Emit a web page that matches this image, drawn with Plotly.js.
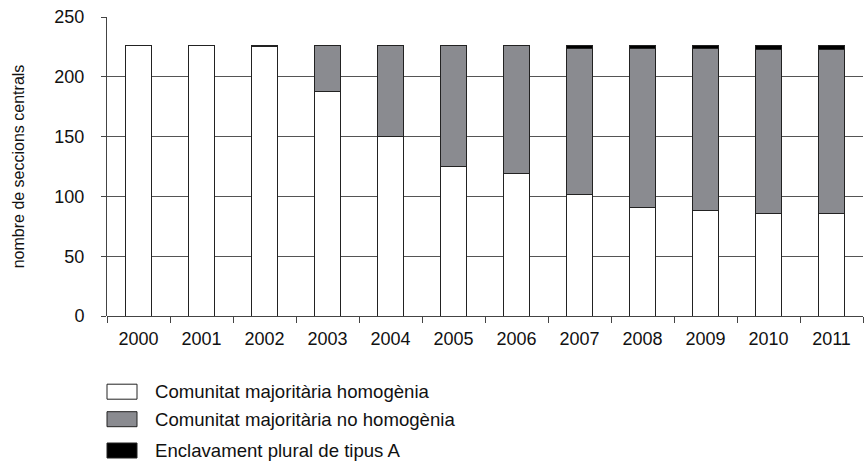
<!DOCTYPE html>
<html>
<head>
<meta charset="utf-8">
<script src="https://cdn.plot.ly/plotly-3.0.1.min.js"></script>
<style>html,body{margin:0;padding:0;background:#fff;}#chart{width:864px;height:462px;}</style>
</head>
<body>
<div id="chart"></div>
<script>
const years = ['2000','2001','2002','2003','2004','2005','2006','2007','2008','2009','2010','2011'];
const homogenia = [226, 226, 225, 188, 150, 125, 119, 102, 91, 88, 86, 86];
const noHomogenia = [0, 0, 0, 38, 76, 101, 107, 122, 133, 136, 137, 137];
const enclavament = [0, 0, 1, 0, 0, 0, 0, 2, 2, 2, 3, 3];
const seriesNames = ['Comunitat majoritària homogènia', 'Comunitat majoritària no homogènia', 'Enclavament plural de tipus A'];
const seriesColors = ['#ffffff', '#8a8b90', '#000000'];
const yTicks = [0, 50, 100, 150, 200, 250];

const W = 864, H = 462;
const M = {l: 107, r: 1, t: 17, b: 146};
const PW = W - M.l - M.r, PH = H - M.t - M.b;
const px2x = p => (p - M.l) / PW;
const px2y = p => (H - M.b - p) / PH;

const font = {family: 'Liberation Sans, Arial, sans-serif', color: '#111', size: 18};
const lineStyle = {color: '#222', width: 1};
const seriesValues = [homogenia, noHomogenia, enclavament];

const traces = seriesValues.map((vals, i) => ({
  type: 'bar', x: years, y: vals, name: seriesNames[i],
  marker: {color: seriesColors[i], line: lineStyle}, showlegend: false
}));

// legend drawn as shapes + text
const legendRows = [391.7, 419.2, 450.5];
const shapes = [], annotations = [];
seriesNames.forEach((name, i) => {
  const cy = legendRows[i];
  shapes.push({type: 'rect', xref: 'paper', yref: 'paper',
    x0: px2x(107), x1: px2x(137), y0: px2y(cy + 7.5), y1: px2y(cy - 7.5),
    fillcolor: seriesColors[i], line: {color: '#222', width: 1}});
  annotations.push({xref: 'paper', yref: 'paper', x: px2x(153), y: px2y(cy),
    xanchor: 'left', yanchor: 'middle', showarrow: false, text: name,
    font: {size: 18.6, color: '#111'}});
});

const layout = {
  width: W, height: H,
  margin: M,
  barmode: 'stack',
  bargap: 0.59,
  paper_bgcolor: '#fff', plot_bgcolor: '#fff',
  font: font,
  showlegend: false,
  shapes: shapes,
  annotations: annotations,
  xaxis: {
    type: 'category', tickson: 'boundaries', ticks: 'outside', ticklen: 6, tickcolor: '#444',
    showline: false, showgrid: false, zeroline: false, tickfont: {size: 18},
    ticklabelstandoff: 10
  },
  yaxis: {
    range: [0, 250], tickvals: yTicks, ticks: 'outside', ticklen: 5, tickcolor: '#444',
    showline: true, linecolor: '#444', linewidth: 1,
    showgrid: true, gridcolor: '#555', gridwidth: 1.2, zeroline: true, zerolinecolor: '#444', zerolinewidth: 1,
    tickfont: {size: 18}, ticklabelstandoff: 13,
    title: {text: 'nombre de seccions centrals', font: {size: 16}, standoff: 25}
  }
};

Plotly.newPlot('chart', traces, layout, {displayModeBar: false, staticPlot: true});
</script>
</body>
</html>
